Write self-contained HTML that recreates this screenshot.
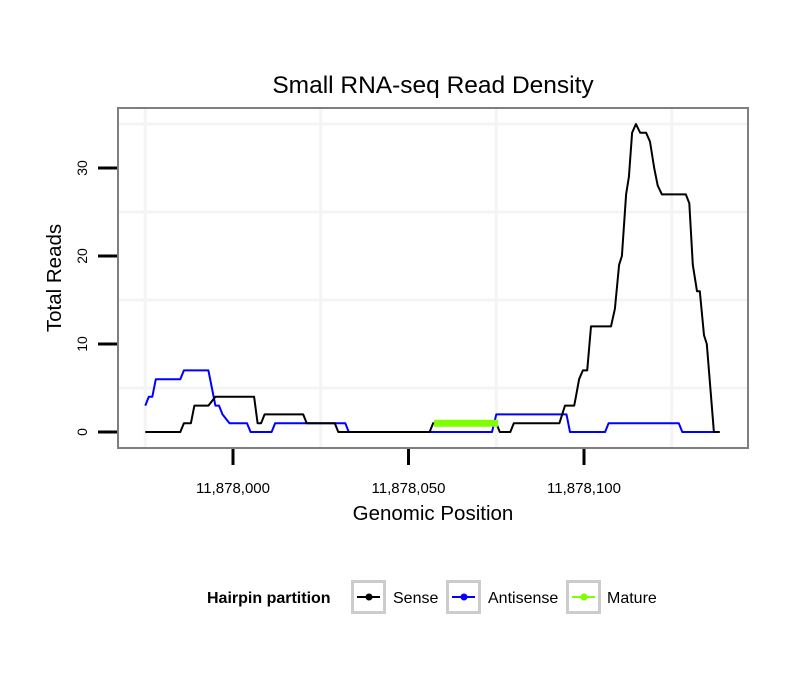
<!DOCTYPE html>
<html><head><meta charset="utf-8"><style>
body{margin:0;background:#fff}
svg text{font-family:"Liberation Sans",sans-serif}
</style></head><body>
<svg id="chart" width="810" height="690" viewBox="0 0 810 690" xmlns="http://www.w3.org/2000/svg">
<rect width="810" height="690" fill="#fff"/>
<text x="433" y="93" font-size="24.5" text-anchor="middle">Small RNA-seq Read Density</text>
<g id="grid"></g>
<g id="series"></g>
<rect x="118" y="108" width="630" height="340" fill="none" stroke="#7f7f7f" stroke-width="2"/>
<g id="axes"></g>
<text x="433" y="520" font-size="20.5" text-anchor="middle">Genomic Position</text>
<text transform="translate(61,278) rotate(-90)" font-size="20.5" text-anchor="middle">Total Reads</text>
<g>
<text x="207" y="603" font-size="16" font-weight="bold">Hairpin partition</text>
<g>
<rect x="352.5" y="581.5" width="32" height="31" fill="#fff" stroke="#ccc" stroke-width="3"/>
<line x1="357" y1="597" x2="380" y2="597" stroke="#000" stroke-width="2"/><circle cx="369" cy="597" r="3.5" fill="#000"/>
<text x="393" y="603" font-size="16">Sense</text></g>
<g>
<rect x="447.5" y="581.5" width="32" height="31" fill="#fff" stroke="#ccc" stroke-width="3"/>
<line x1="452" y1="597" x2="475" y2="597" stroke="#00f" stroke-width="2"/><circle cx="464" cy="597" r="3.5" fill="#00f"/>
<text x="488" y="603" font-size="16">Antisense</text></g>
<g>
<rect x="567.5" y="581.5" width="32" height="31" fill="#fff" stroke="#ccc" stroke-width="3"/>
<line x1="572" y1="597" x2="595" y2="597" stroke="#7fff00" stroke-width="2"/><circle cx="584" cy="597" r="3.5" fill="#7fff00"/>
<text x="607" y="603" font-size="16">Mature</text></g>
</g>
</svg>
<script>
// positions are offsets from genomic coordinate 11,877,000
const senseX=[975,985,986,988,989,993,995,1006,1007,1008,1009,1020,1021,1029,1030,1056,1057,1075,1076,1079,1080,1093,1094.6,1097.2,1097.7,1098.6,1099.7,1100.9,1102,1107.7,1108.8,1110,1110.8,1112,1112.8,1113.7,1114.8,1116,1117.7,1118.8,1120,1121,1122.2,1129,1130,1131,1132.2,1133,1134.2,1135,1137,1138.7];
const senseY=[0,0,1,1,3,3,4,4,1,1,2,2,1,1,0,0,1,1,0,0,1,1,3,3,4,6,7,7,12,12,14,19,20,27,29,34,35,34,34,33,30,28,27,27,26,19,16,16,11,10,0,0];
const antiX=[975,976,977,978,985,986,993,995,996,997,999,1004,1005,1011,1012,1032,1033,1073.8,1075,1095,1096,1106,1107,1127,1128,1137];
const antiY=[3,4,4,6,6,7,7,3,3,2,1,1,0,0,1,1,0,0,2,2,0,0,1,1,0,0];
const matureX=[1057.3,1060,1063,1066,1069,1072,1075.5];
const matureY=[1,1,1,1,1,1,1];
const xTicks=[1000,1050,1100];
const xTickLabels=["11,878,000","11,878,050","11,878,100"];
const yTicks=[0,10,20,30];
const xs=p=>233+(p-1000)*3.51;
const ys=v=>432-v*8.8;
const NS="http://www.w3.org/2000/svg";
function mk(tag,attrs,parent){const e=document.createElementNS(NS,tag);for(const k in attrs)e.setAttribute(k,attrs[k]);parent.appendChild(e);return e;}
const grid=document.getElementById('grid'),series=document.getElementById('series'),axes=document.getElementById('axes');
[975,1025,1075,1125].forEach(p=>{const l=mk('line',{x1:xs(p),x2:xs(p),y1:109,y2:447,stroke:'#f4f4f4','stroke-width':3},grid);

});
[5,15,25,35].forEach(v=>{const l=mk('line',{x1:119,x2:747,y1:ys(v),y2:ys(v),stroke:'#f4f4f4','stroke-width':3},grid);

});
function line(X,Y,color,w,name){const d=X.map((x,i)=>(i?'L':'M')+xs(x).toFixed(1)+','+ys(Y[i]).toFixed(1)).join('');
const p=mk('path',{d:d,fill:'none',stroke:color,'stroke-width':w,'stroke-linejoin':'round'},series);

}
line(antiX,antiY,'#0000ff',2,'antisense-line');
line(senseX,senseY,'#000000',2,'sense-line');
line(matureX,matureY,'#7fff00',7,'mature-line');
xTicks.forEach((t,i)=>{const l=mk('line',{x1:xs(t),x2:xs(t),y1:449,y2:465,stroke:'#000','stroke-width':3},axes);


const tx=mk('text',{x:xs(t),y:493,'font-size':15,'text-anchor':'middle'},axes);tx.textContent=xTickLabels[i];

});
yTicks.forEach(v=>{const l=mk('line',{x1:98,x2:117,y1:ys(v),y2:ys(v),stroke:'#000','stroke-width':3},axes);


const tx=mk('text',{transform:`translate(87,${ys(v)}) rotate(-90)`,'font-size':14,'text-anchor':'middle'},axes);tx.textContent=v;

});
</script>
</body></html>
